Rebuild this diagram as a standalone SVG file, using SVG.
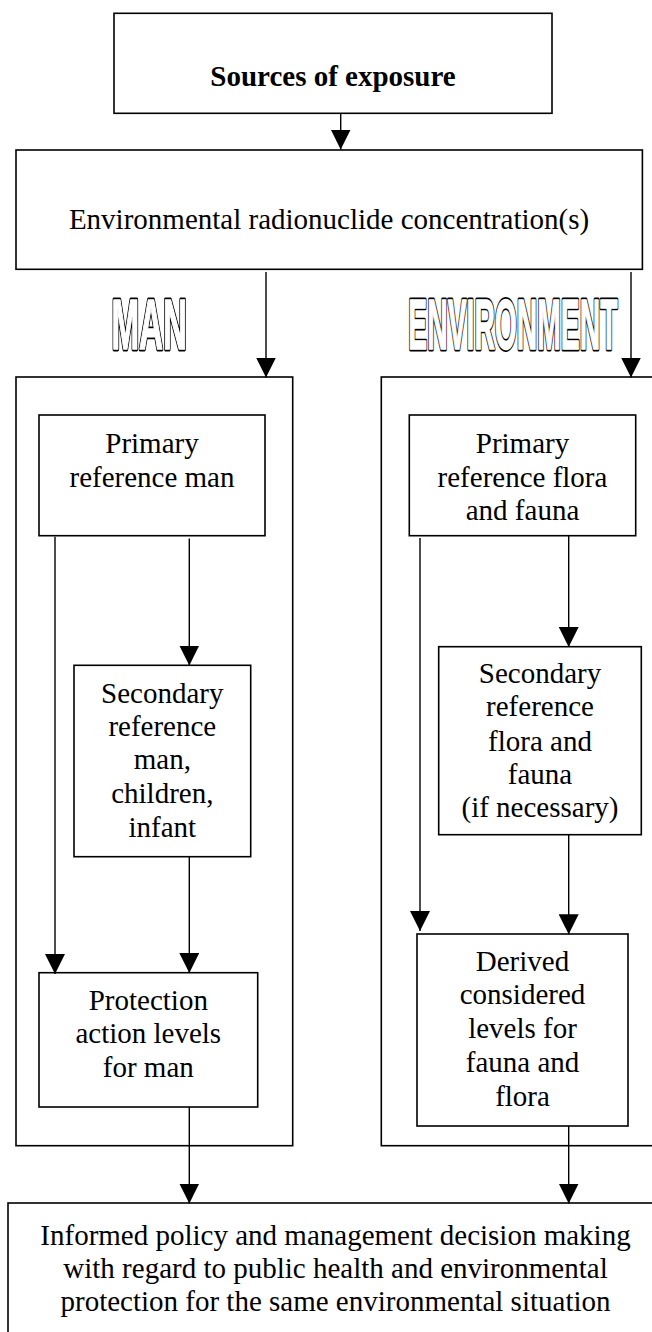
<svg xmlns="http://www.w3.org/2000/svg" width="652" height="1332" viewBox="0 0 652 1332">
<defs>
<marker id="ah" markerUnits="userSpaceOnUse" markerWidth="20" markerHeight="20" refX="20" refY="10" orient="auto" viewBox="0 0 20 20">
<path d="M0,0 L20,10 L0,20 z" fill="#000"/>
</marker>
<style>
.box{fill:#fff;stroke:#000;stroke-width:1.6}
.t{font-family:"Liberation Serif","Times New Roman",serif;font-size:29px;fill:#000;text-anchor:middle}
.b{font-weight:bold}
.c{fill:none;stroke:#000;stroke-width:1.4;marker-end:url(#ah)}
.o1{font-family:"Liberation Sans",Arial,sans-serif;font-weight:bold;font-size:30px;fill:#fff;stroke:#000;stroke-width:3.8;stroke-linejoin:round;vector-effect:non-scaling-stroke}
.o2{font-family:"Liberation Sans",Arial,sans-serif;font-weight:bold;font-size:30px;fill:#fff;stroke:#fff;stroke-width:1.3;stroke-linejoin:round;vector-effect:non-scaling-stroke}
</style>
</defs>
<rect width="652" height="1332" fill="#fff"/>

<g id="outer-man"><rect class="box" x="16" y="377" width="276.7" height="768.7"/></g>
<g id="outer-env"><rect class="box" x="381.3" y="377" width="300" height="768.7"/></g>

<g id="sources">
<rect class="box" x="114" y="13.3" width="438" height="100"/>
<text class="t b" x="333" y="86">Sources of exposure</text>
</g>

<g id="env-conc">
<rect class="box" x="16" y="150" width="626.4" height="119.3"/>
<text class="t" x="329" y="229.3">Environmental radionuclide concentration(s)</text>
</g>

<g id="label-man" transform="translate(111.4,349.3) scale(1,2.33)">
<text class="o1" x="0" y="0" textLength="75.7" lengthAdjust="spacingAndGlyphs">MAN</text>
<text class="o2" x="0" y="0" textLength="75.7" lengthAdjust="spacingAndGlyphs">MAN</text>
</g>
<g id="label-env" transform="translate(408.3,349.3) scale(1,2.33)">
<text class="o1" x="0" y="0" textLength="209.2" lengthAdjust="spacingAndGlyphs">ENVIRONMENT</text>
<text class="o2" x="0" y="0" textLength="209.2" lengthAdjust="spacingAndGlyphs">ENVIRONMENT</text>
</g>

<g id="primary-man">
<rect class="box" x="39" y="415" width="226" height="120.7"/>
<text class="t" x="152" y="452.7">Primary</text>
<text class="t" x="152" y="486.7">reference man</text>
</g>

<g id="secondary-man">
<rect class="box" x="74" y="665.3" width="176.7" height="191.4"/>
<text class="t" x="162.3" y="702.7">Secondary</text>
<text class="t" x="162.3" y="735.5">reference</text>
<text class="t" x="162.3" y="769.3">man,</text>
<text class="t" x="162.3" y="803">children,</text>
<text class="t" x="162.3" y="836.7">infant</text>
</g>

<g id="protection">
<rect class="box" x="39" y="972.7" width="218.7" height="134.3"/>
<text class="t" x="148.3" y="1010">Protection</text>
<text class="t" x="148.3" y="1043.3">action levels</text>
<text class="t" x="148.3" y="1077.3">for man</text>
</g>

<g id="primary-flora">
<rect class="box" x="409.3" y="415" width="226.4" height="120.7"/>
<text class="t" x="522.5" y="452.7">Primary</text>
<text class="t" x="522.5" y="486.7">reference flora</text>
<text class="t" x="522.5" y="520">and fauna</text>
</g>

<g id="secondary-flora">
<rect class="box" x="438.7" y="646.7" width="202.6" height="188"/>
<text class="t" x="540" y="683.3">Secondary</text>
<text class="t" x="540" y="716">reference</text>
<text class="t" x="540" y="750.7">flora and</text>
<text class="t" x="540" y="784.3">fauna</text>
<text class="t" x="540" y="817.3">(if necessary)</text>
</g>

<g id="derived">
<rect class="box" x="417" y="934" width="211" height="192"/>
<text class="t" x="522.5" y="971">Derived</text>
<text class="t" x="522.5" y="1004">considered</text>
<text class="t" x="522.5" y="1038.3">levels for</text>
<text class="t" x="522.5" y="1071.7">fauna and</text>
<text class="t" x="522.5" y="1106">flora</text>
</g>

<g id="decision">
<rect class="box" x="8" y="1203" width="700" height="200"/>
<text class="t" x="335.5" y="1245">Informed policy and management decision making</text>
<text class="t" x="335.5" y="1278">with regard to public health and environmental</text>
<text class="t" x="335.5" y="1311">protection for the same environmental situation</text>
</g>

<g id="connectors">
<line class="c" x1="340.7" y1="113.3" x2="340.7" y2="149.5"/>
<line class="c" x1="266" y1="272" x2="266" y2="377.5"/>
<line class="c" x1="631" y1="272" x2="631" y2="377.5"/>
<line class="c" x1="55" y1="536.7" x2="55" y2="974"/>
<line class="c" x1="189.3" y1="538.5" x2="189.3" y2="665.5"/>
<line class="c" x1="189.3" y1="856.7" x2="189.3" y2="973"/>
<line class="c" x1="189.3" y1="1107" x2="189.3" y2="1203.5"/>
<line class="c" x1="420" y1="538" x2="420" y2="931"/>
<line class="c" x1="568.7" y1="536" x2="568.7" y2="647"/>
<line class="c" x1="568.7" y1="835" x2="568.7" y2="934.3"/>
<line class="c" x1="568.7" y1="1126" x2="568.7" y2="1203.5"/>
</g>
</svg>
